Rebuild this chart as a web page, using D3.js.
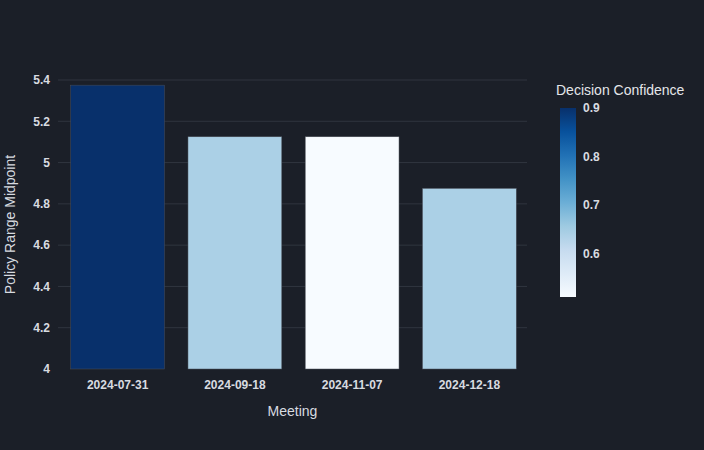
<!DOCTYPE html>
<html>
<head>
<meta charset="utf-8">
<script src="https://cdn.jsdelivr.net/npm/d3@7"></script>
<style>
  html, body { margin: 0; padding: 0; background: #1b1f28; }
  svg { display: block; font-family: "Liberation Sans", Arial, sans-serif; }
</style>
</head>
<body>
<script>
const meetings = ["2024-07-31", "2024-09-18", "2024-11-07", "2024-12-18"];
const midpoints = [5.375, 5.125, 5.125, 4.875];
const confidence = [0.9, 0.64, 0.51, 0.64];
const yTicks = [4, 4.2, 4.4, 4.6, 4.8, 5, 5.2, 5.4];
const cbTicks = [0.6, 0.7, 0.8, 0.9];

const w = 704, h = 450;
const margin = { left: 58, right: 177, top: 80, bottom: 81 };
const bg = "#1b1f28";

const blues = ["rgb(247,251,255)", "rgb(222,235,247)", "rgb(198,219,239)", "rgb(158,202,225)",
  "rgb(107,174,214)", "rgb(66,146,198)", "rgb(33,113,181)", "rgb(8,81,156)", "rgb(8,48,107)"];
const cMin = d3.min(confidence), cMax = d3.max(confidence);
const colorScale = d3.scaleLinear()
  .domain(blues.map((c, i) => cMin + (cMax - cMin) * i / (blues.length - 1)))
  .range(blues)
  .interpolate(d3.interpolateRgb);

const svg = d3.select("body").append("svg")
  .attr("width", w)
  .attr("height", h)
  .style("background", bg);

const xScale = d3.scaleBand()
  .domain(meetings)
  .range([margin.left + 1, w - margin.right + 1])
  .paddingInner(0.2)
  .paddingOuter(0.1);

const yScale = d3.scaleLinear()
  .domain([4, 5.4])
  .range([h - margin.bottom, margin.top]);

// grid
svg.append("g")
  .selectAll("line")
  .data(yTicks.slice(1))
  .enter()
  .append("line")
  .attr("x1", margin.left)
  .attr("x2", w - margin.right)
  .attr("y1", d => yScale(d))
  .attr("y2", d => yScale(d))
  .attr("stroke", "#30353f")
  .attr("stroke-width", 1);

svg.append("g")
  .selectAll("rect")
  .data(meetings)
  .enter()
  .append("rect")
  .attr("x", d => xScale(d))
  .attr("width", xScale.bandwidth())
  .attr("y", (d, i) => yScale(midpoints[i]))
  .attr("height", (d, i) => yScale(4) - yScale(midpoints[i]))
  .attr("fill", (d, i) => colorScale(confidence[i]))
  .attr("stroke", "#4a4f58")
  .attr("stroke-width", 0.5);

const yAxis = d3.axisLeft(yScale).tickValues(yTicks).tickSize(0).tickPadding(8)
  .tickFormat(d => d3.format("")(+d.toFixed(1)));
const gy = svg.append("g")
  .attr("transform", "translate(" + margin.left + ", 0)")
  .call(yAxis);
gy.select(".domain").remove();
gy.selectAll("text").attr("fill", "#d8dbe0").attr("font-size", 12).attr("font-weight", "bold")
  .attr("font-family", "Liberation Sans, Arial, sans-serif");

const xAxis = d3.axisBottom(xScale).tickSize(0).tickPadding(11);
const gx = svg.append("g")
  .attr("transform", "translate(0, " + (h - margin.bottom) + ")")
  .call(xAxis);
gx.select(".domain").remove();
gx.selectAll("text").attr("fill", "#d8dbe0").attr("font-size", 12).attr("font-weight", "bold")
  .attr("font-family", "Liberation Sans, Arial, sans-serif");

svg.append("text")
  .attr("x", (margin.left + w - margin.right) / 2)
  .attr("y", 416)
  .attr("text-anchor", "middle")
  .attr("fill", "#d8dbe0")
  .attr("font-size", 14)
  .text("Meeting");

svg.append("text")
  .attr("transform", "translate(15, " + ((margin.top + h - margin.bottom) / 2) + ") rotate(-90)")
  .attr("text-anchor", "middle")
  .attr("fill", "#d8dbe0")
  .attr("font-size", 14)
  .text("Policy Range Midpoint");

// colorbar
const cbX = 560, cbW = 16, cbTop = 108, cbBottom = 297;
const cbScale = d3.scaleLinear().domain([cMin, cMax]).range([cbBottom, cbTop]);

const grad = svg.append("defs").append("linearGradient")
  .attr("id", "cb")
  .attr("x1", 0).attr("x2", 0).attr("y1", 1).attr("y2", 0);
grad.selectAll("stop")
  .data(blues)
  .enter()
  .append("stop")
  .attr("offset", (d, i) => i / (blues.length - 1))
  .attr("stop-color", d => d);

svg.append("rect")
  .attr("x", cbX)
  .attr("y", cbTop)
  .attr("width", cbW)
  .attr("height", cbBottom - cbTop)
  .attr("fill", "url(#cb)");

const cbAxis = d3.axisRight(cbScale).tickValues(cbTicks).tickSize(0).tickPadding(7)
  .tickFormat(d3.format(".1f"));
const gc = svg.append("g")
  .attr("transform", "translate(" + (cbX + cbW) + ", 0)")
  .call(cbAxis);
gc.select(".domain").remove();
gc.selectAll("text").attr("fill", "#d8dbe0").attr("font-size", 12).attr("font-weight", "bold")
  .attr("font-family", "Liberation Sans, Arial, sans-serif");

svg.append("text")
  .attr("x", 556)
  .attr("y", 95)
  .attr("fill", "#e4e6ea")
  .attr("font-size", 14)
  .text("Decision Confidence");
</script>
</body>
</html>
